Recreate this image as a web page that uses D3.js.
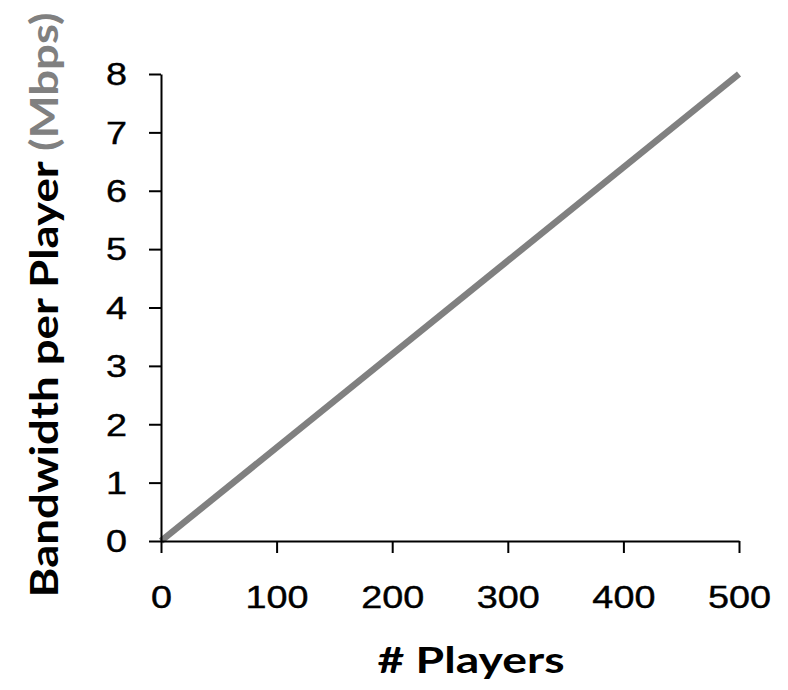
<!DOCTYPE html>
<html><head><meta charset="utf-8">
<script src="https://cdn.jsdelivr.net/npm/d3@7"></script>
<style>
html,body{margin:0;padding:0;background:#fff;}
svg{display:block;}
</style></head>
<body>
<script>
const players = [0, 500];
const bandwidth = [0, 8];
const xTicks = [0, 100, 200, 300, 400, 500];
const yTicks = [0, 1, 2, 3, 4, 5, 6, 7, 8];
const xTitle = "# Players";
const yTitleMain = "Bandwidth per Player ";
const yTitleUnit = "(Mbps)";

const W = 788, H = 690;
const svg = d3.select("body").append("svg").attr("width", W).attr("height", H);

const x = d3.scaleLinear().domain([0, 500]).range([161, 739]);
const y = d3.scaleLinear().domain([0, 8]).range([541, 74]);
const SX = 1.22;

// line
const pts = players.map((p, i) => [p, bandwidth[i]]);
svg.append("path")
  .datum(pts)
  .attr("fill", "none")
  .attr("stroke", "#808080")
  .attr("stroke-width", 6.5)
  .attr("d", d3.line().x(d => x(d[0])).y(d => y(d[1])));

// axes
const xAxis = svg.append("g").attr("transform", `translate(0,${y(0)})`)
  .call(d3.axisBottom(x).tickValues(xTicks).tickSize(12).tickSizeOuter(0).tickFormat(d3.format("d")));
const yAxis = svg.append("g").attr("transform", `translate(${x(0)},0)`)
  .call(d3.axisLeft(y).tickValues(yTicks).tickSize(12).tickSizeOuter(0).tickFormat(d3.format("d")));

[xAxis, yAxis].forEach(g => {
  g.select(".domain").attr("stroke", "#000").attr("stroke-width", 2);
  g.selectAll(".tick line").attr("stroke", "#000").attr("stroke-width", 2);
  g.selectAll(".tick text")
    .attr("font-family", "'Liberation Sans', Arial, sans-serif")
    .attr("font-size", 31)
    .attr("fill", "#000")
    .attr("stroke", "#000")
    .attr("stroke-width", 0.4);
});
xAxis.selectAll(".tick text").attr("y", 67).attr("dy", 0).attr("transform", `scale(${SX},1)`);
yAxis.selectAll(".tick text").attr("x", -34 / SX).attr("dy", "0.35em").attr("transform", `scale(${SX},1)`);

// x title
svg.append("text")
  .attr("x", 471).attr("y", 673)
  .attr("text-anchor", "middle")
  .attr("font-family", "Lato, 'Open Sans', sans-serif")
  .attr("font-weight", 700)
  .attr("font-size", 37)
  .attr("fill", "#000")
  .attr("textLength", 187).attr("lengthAdjust", "spacingAndGlyphs")
  .text(xTitle);

// y title
const yt = svg.append("text")
  .attr("transform", "translate(58,305) rotate(-90)")
  .attr("text-anchor", "middle")
  .attr("font-family", "Lato, 'Open Sans', sans-serif")
  .attr("font-weight", 700)
  .attr("font-size", 39)
  .attr("textLength", 585).attr("lengthAdjust", "spacingAndGlyphs");
yt.append("tspan").attr("fill", "#000").text(yTitleMain);
yt.append("tspan").attr("fill", "#808080").text(yTitleUnit);
</script>
</body></html>
